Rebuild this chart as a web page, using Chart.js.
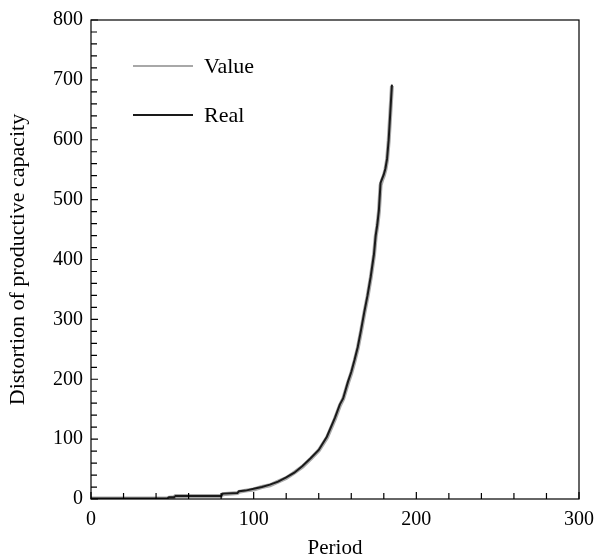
<!DOCTYPE html>
<html>
<head>
<meta charset="utf-8">
<script src="https://cdn.jsdelivr.net/npm/chart.js@4"></script>
<style>
  html, body { margin: 0; padding: 0; background: #fff; }
  #wrap { width: 599px; height: 559px; }
</style>
</head>
<body>
<div id="wrap"><canvas id="myChart" width="599" height="559"></canvas></div>
<script>
// data
var periods = [0, 47, 48, 51, 52, 80, 81, 90, 91, 95, 100, 105, 110, 115, 120, 125, 130, 135, 140, 145,
    150, 153, 155, 158, 160, 162, 164, 166, 168, 170, 172, 174, 175, 176, 177, 178, 179, 180, 181, 182,
    183, 184, 185];
var realValues = [1, 1, 3, 3, 5, 5, 9, 10, 13, 14, 17, 20, 24, 29, 36, 44, 55, 68, 82, 104,
    136, 158, 168, 196, 212, 232, 254, 282, 312, 340, 372, 410, 440, 458, 483, 528, 535, 542, 552, 568,
    600, 646, 692];
var valueValues = [1, 1, 2, 3, 5, 5, 8, 10, 12, 14, 16, 20, 23, 29, 35, 44, 54, 67, 81, 102,
    134, 156, 167, 194, 210, 230, 252, 280, 310, 338, 370, 408, 438, 456, 480, 524, 533, 540, 550, 566,
    598, 644, 690];
var xTicks = [0, 100, 200, 300];
var yTicks = [0, 100, 200, 300, 400, 500, 600, 700, 800];

var serif = "'Liberation Serif', 'DejaVu Serif', serif";

function toPoints(xs, ys) {
    var pts = [];
    for (var i = 0; i < xs.length; i++) {
        pts.push({ x: xs[i], y: ys[i] });
    }
    return pts;
}

// frame, inward ticks and the in-plot legend
var framePlugin = {
    id: "frame",
    afterDraw: function (chart) {
        var ctx = chart.ctx;
        var a = chart.chartArea;
        var xs = chart.scales.x;
        var ys = chart.scales.y;
        ctx.save();
        ctx.strokeStyle = "#000";
        ctx.lineWidth = 1.2;
        ctx.strokeRect(a.left, a.top, a.right - a.left, a.bottom - a.top);

        ctx.beginPath();
        for (var v = 0; v <= 300; v += 20) {
            var px = xs.getPixelForValue(v);
            var len = (v % 100 === 0) ? 7 : 6;
            ctx.moveTo(px, a.bottom);
            ctx.lineTo(px, a.bottom - len);
        }
        for (var w = 0; w <= 800; w += 20) {
            var py = ys.getPixelForValue(w);
            var len2 = (w % 100 === 0) ? 7 : 6;
            ctx.moveTo(a.left, py);
            ctx.lineTo(a.left + len2, py);
        }
        ctx.stroke();

        // legend
        var rows = [66, 115];
        chart.data.datasets.forEach(function (ds, i) {
            var y = rows[i];
            ctx.strokeStyle = ds.borderColor;
            ctx.lineWidth = 2;
            ctx.beginPath();
            ctx.moveTo(133, y);
            ctx.lineTo(193, y);
            ctx.stroke();
            ctx.fillStyle = "#000";
            ctx.font = "22px " + serif;
            ctx.textBaseline = "middle";
            ctx.fillText(ds.label, 204, y + 1);
        });
        ctx.restore();
    }
};

var ctx = document.getElementById("myChart").getContext("2d");
var myChart = new Chart(ctx, {
    type: "line",
    data: {
        datasets: [
            {
                label: "Value",
                data: toPoints(periods, valueValues),
                borderColor: "#a8a8a8",
                borderWidth: 4,
                pointRadius: 0,
                fill: false,
                tension: 0,
                order: 1
            },
            {
                label: "Real",
                data: toPoints(periods, realValues),
                borderColor: "#1a1a1a",
                borderWidth: 2,
                pointRadius: 0,
                fill: false,
                tension: 0,
                order: 0
            }
        ]
    },
    options: {
        responsive: false,
        animation: false,
        layout: { padding: { top: 17, right: 20, left: 0, bottom: 0 } },
        plugins: {
            legend: { display: false },
            tooltip: { enabled: false }
        },
        scales: {
            x: {
                type: "linear",
                min: 0,
                max: 300,
                afterBuildTicks: function (scale) {
                    scale.ticks = xTicks.map(function (v) { return { value: v }; });
                },
                afterFit: function (scale) {
                    scale.height = 60;
                    scale.paddingRight = 0;
                },
                grid: { display: false, drawTicks: false },
                border: { display: false },
                ticks: {
                    color: "#000",
                    padding: 9,
                    maxRotation: 0,
                    font: { family: serif, size: 20 }
                },
                title: {
                    display: true,
                    text: "Period",
                    color: "#000",
                    padding: { top: 2, bottom: -2 },
                    font: { family: serif, size: 21 }
                }
            },
            y: {
                type: "linear",
                min: 0,
                max: 800,
                afterBuildTicks: function (scale) {
                    scale.ticks = yTicks.map(function (v) { return { value: v }; });
                },
                afterFit: function (scale) { scale.width = 91; },
                grid: { display: false, drawTicks: false },
                border: { display: false },
                ticks: {
                    color: "#000",
                    padding: 8,
                    font: { family: serif, size: 20 }
                },
                title: {
                    display: true,
                    text: "Distortion of productive capacity",
                    color: "#000",
                    padding: { top: 5, bottom: 6 },
                    font: { family: serif, size: 22 }
                }
            }
        }
    },
    plugins: [framePlugin]
});
</script>
</body>
</html>
